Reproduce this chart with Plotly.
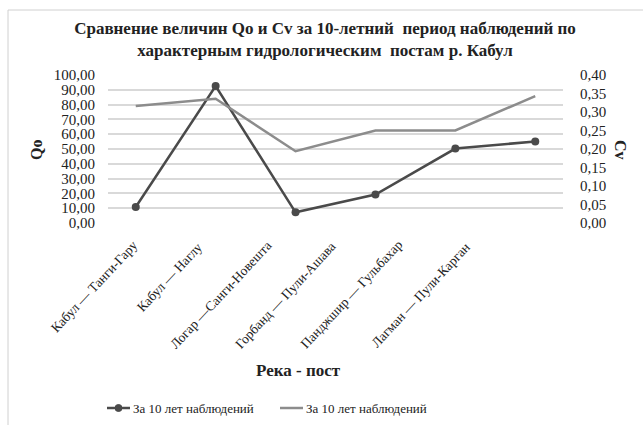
import plotly.graph_objects as go

# Hydrological posts on the Kabul river basin
posts = [
    "Кабул — Танги-Гару",
    "Кабул — Наглу",
    "Логар —Санги-Новешта",
    "Горбанд — Пули-Ашава",
    "Панджшир — Гульбахар",
    "Лагман — Пули-Карган",
]
# Mean annual discharge Qo over 10 years
qo_values = [10.8, 92.5, 7.2, 19.2, 50.3, 55.1]
# Coefficient of variation Cv over 10 years
cv_values = [0.316, 0.336, 0.194, 0.25, 0.25, 0.343]
series_names = ["За 10 лет наблюдений", "За 10 лет наблюдений"]

qo_ticks = [i * 10 for i in range(11)]
cv_ticks = [i * 0.05 for i in range(9)]

serif = "Liberation Serif, serif"
dark = "#4a4a4a"
light = "#8c8c8c"
text_color = "#222222"

W, H = 643, 425
L, R, T, B = 108, 80, 75, 202
PW, PH = W - L - R, H - T - B


def px_x(x):
    """Horizontal pixel position -> paper coordinate."""
    return (x - L) / PW


def px_y(y):
    """Vertical pixel position (from top) -> paper coordinate."""
    return (H - B - y) / PH


fig = go.Figure()
fig.add_trace(go.Scatter(
    x=posts, y=qo_values, name=series_names[0],
    mode="lines+markers",
    line=dict(color=dark, width=2.5),
    marker=dict(color=dark, size=8),
    yaxis="y",
))
fig.add_trace(go.Scatter(
    x=posts, y=cv_values, name=series_names[1],
    mode="lines",
    line=dict(color=light, width=2.5),
    yaxis="y2",
))

fig.update_layout(
    width=W, height=H,
    margin=dict(l=L, r=R, t=T, b=B, autoexpand=False),
    paper_bgcolor="white", plot_bgcolor="white",
    separators=", ",
    font=dict(family=serif, size=14, color=text_color),
    title=dict(
        text="<b>Сравнение величин Qo и Cv за 10-летний  период наблюдений по<br>характерным гидрологическим  постам р. Кабул</b>",
        x=325 / W, xanchor="center", y=1 - 34 / H, yanchor="top",
        font=dict(family=serif, size=17, color=text_color),
    ),
    xaxis=dict(
        showticklabels=False,
        showgrid=False, showline=False, ticks="",
    ),
    yaxis=dict(
        range=[0, 100], tickvals=qo_ticks, tickformat=".2f",
        showgrid=True, gridcolor="#d9d9d9", gridwidth=1.5,
        zeroline=False, showline=False, ticks="",
        tickfont=dict(family=serif, size=15), ticklabelstandoff=12,
    ),
    yaxis2=dict(
        range=[0, 0.4], tickvals=cv_ticks, tickformat=".2f",
        overlaying="y", side="right", showgrid=False,
        zeroline=False, showline=False, ticks="",
        tickfont=dict(family=serif, size=15), ticklabelstandoff=16,
    ),
    showlegend=False,
)

# Category labels, set diagonally below the plot
label_centers = [(94, 286), (169, 277), (220, 295), (285, 295), (351, 294), (420, 295)]
for name, (cx, cy) in zip(posts, label_centers):
    fig.add_annotation(
        text=name, xref="paper", yref="paper",
        x=px_x(cx), y=px_y(cy), xanchor="center", yanchor="middle",
        textangle=-47, showarrow=False,
        font=dict(family=serif, size=13.5, color=text_color),
    )

# Axis titles placed as annotations
fig.add_annotation(
    text="<b>Река - пост</b>", xref="paper", yref="paper",
    x=px_x(298), y=px_y(370), xanchor="center", yanchor="middle", showarrow=False,
    font=dict(family=serif, size=17),
)
fig.add_annotation(
    text="<b>Qo</b>", xref="paper", yref="paper", x=px_x(36), y=px_y(150),
    xanchor="center", yanchor="middle",
    textangle=-90, showarrow=False, font=dict(family=serif, size=16),
)
fig.add_annotation(
    text="<b>Cv</b>", xref="paper", yref="paper", x=px_x(621), y=px_y(150),
    xanchor="center", yanchor="middle",
    textangle=90, showarrow=False, font=dict(family=serif, size=16),
)

# Legend row: key line (+ marker for Qo) followed by the series name
legend_y = 408
legend_items = [(107, 130, dark, True), (280, 303, light, False)]
for name, (x0, x1, color, with_marker) in zip(series_names, legend_items):
    fig.add_shape(
        type="line", xref="paper", yref="paper",
        x0=px_x(x0), x1=px_x(x1), y0=px_y(legend_y), y1=px_y(legend_y),
        line=dict(color=color, width=2.5),
    )
    if with_marker:
        cx = (x0 + x1) / 2
        fig.add_shape(
            type="circle", xref="paper", yref="paper",
            x0=px_x(cx - 3.5), x1=px_x(cx + 3.5),
            y0=px_y(legend_y + 3.5), y1=px_y(legend_y - 3.5),
            line=dict(color=color, width=1), fillcolor=color,
        )
    fig.add_annotation(
        text=name, xref="paper", yref="paper",
        x=px_x(x1 + 1), y=px_y(legend_y), xanchor="left", yanchor="middle",
        showarrow=False, font=dict(family=serif, size=13, color=text_color),
    )

# Chart frame
fig.add_shape(
    type="rect", xref="paper", yref="paper",
    x0=px_x(8), x1=px_x(700), y0=px_y(480), y1=px_y(10),
    line=dict(color="#d0d0d0", width=1), layer="below",
)

fig.write_html("out.html")
